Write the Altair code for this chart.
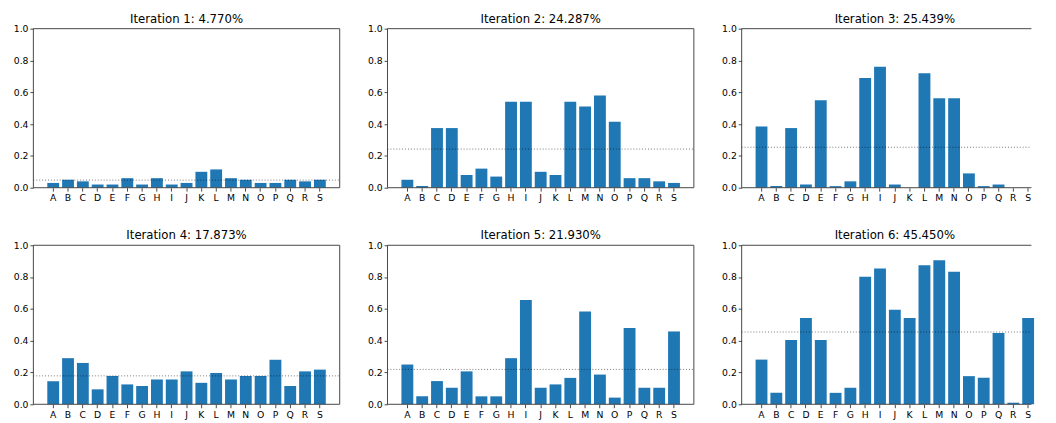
import altair as alt
import pandas as pd

categories = list("ABCDEFGHIJKLMNOPQRS")

iter1 = [0.03, 0.05, 0.04, 0.02, 0.02, 0.06, 0.02, 0.06, 0.02, 0.03,
         0.10, 0.115, 0.06, 0.05, 0.03, 0.03, 0.05, 0.04, 0.05]
iter2 = [0.05, 0.01, 0.375, 0.375, 0.08, 0.12, 0.07, 0.54, 0.54, 0.10,
         0.08, 0.54, 0.51, 0.58, 0.415, 0.06, 0.06, 0.04, 0.03]
iter3 = [0.385, 0.01, 0.375, 0.02, 0.55, 0.01, 0.04, 0.69, 0.76, 0.02,
         0.0, 0.72, 0.563, 0.563, 0.09, 0.01, 0.02, 0.0, 0.0]
iter4 = [0.145, 0.29, 0.26, 0.094, 0.178, 0.125, 0.115, 0.156, 0.156, 0.207,
         0.135, 0.197, 0.156, 0.178, 0.178, 0.28, 0.115, 0.207, 0.218]
iter5 = [0.25, 0.05, 0.146, 0.104, 0.207, 0.05, 0.05, 0.29, 0.656, 0.104,
         0.125, 0.166, 0.583, 0.187, 0.042, 0.479, 0.104, 0.104, 0.458]
iter6 = [0.281, 0.072, 0.405, 0.542, 0.405, 0.072, 0.104, 0.802, 0.854, 0.594,
         0.542, 0.875, 0.906, 0.833, 0.177, 0.167, 0.448, 0.01, 0.542]

means = [0.04770, 0.24287, 0.25439, 0.17873, 0.21930, 0.45450]
y_ticks = [0.0, 0.2, 0.4, 0.6, 0.8, 1.0]

W = 314
W_LAST = 297
H = 163
SPINE = "#444444"
BAR = "#1f77b4"


def panel(vals, mean, idx, last):
    w = W_LAST if last else W
    df = pd.DataFrame({"cat": categories, "val": vals})
    if last:
        xscale = alt.Scale(paddingInner=0.2, paddingOuter=0.94, range=[0, W])
    else:
        xscale = alt.Scale(paddingInner=0.2, paddingOuter=0.94)
    yenc = alt.Y("val:Q",
                 scale=alt.Scale(domain=[0, 1], nice=False, zero=True),
                 axis=alt.Axis(title=None, values=y_ticks, format=".1f",
                               grid=False, domain=False))
    bars = alt.Chart(df).mark_bar(color=BAR).encode(
        x=alt.X("cat:N", sort=categories, scale=xscale,
                axis=alt.Axis(title=None, labelAngle=0, domain=False)),
        y=yenc,
    )
    rule = alt.Chart(pd.DataFrame({"val": [mean]})).mark_rule(
        color="black", opacity=0.55, strokeDash=[1, 2], strokeWidth=1
    ).encode(y=yenc, x=alt.value(0), x2=alt.value(w))
    fdf = pd.DataFrame({"k": [0]})
    top = alt.Chart(fdf).mark_rule(color=SPINE, strokeWidth=1).encode(
        x=alt.value(0), x2=alt.value(w), y=alt.value(0))
    bottom = alt.Chart(fdf).mark_rule(color=SPINE, strokeWidth=1).encode(
        x=alt.value(0), x2=alt.value(w), y=alt.value(H))
    left = alt.Chart(fdf).mark_rule(color=SPINE, strokeWidth=1).encode(
        x=alt.value(0), y=alt.value(0), y2=alt.value(H))
    layers = [bars, rule, top, bottom, left]
    if not last:
        right = alt.Chart(fdf).mark_rule(color=SPINE, strokeWidth=1).encode(
            x=alt.value(w), y=alt.value(0), y2=alt.value(H))
        layers.append(right)
    title_text = f"Iteration {idx}: {mean * 100:.3f}%"
    if last:
        title = alt.TitleParams(text=title_text, dx=(W - W_LAST) / 2)
    else:
        title = alt.TitleParams(text=title_text)
    return alt.layer(*layers).properties(width=w, height=H, title=title)


series = [iter1, iter2, iter3, iter4, iter5, iter6]
panels = [panel(series[i], means[i], i + 1, i % 3 == 2) for i in range(6)]

row1 = alt.hconcat(panels[0], panels[1], panels[2], spacing=27)
row2 = alt.hconcat(panels[3], panels[4], panels[5], spacing=27)

chart = alt.vconcat(row1, row2, spacing=28).properties(
    padding={"left": 5, "top": 0, "right": 0, "bottom": 0}
).configure_view(
    strokeOpacity=0
).configure_axis(
    labelFont="DejaVu Sans",
    labelFontSize=9.5,
    labelColor="#000000",
    tickColor=SPINE,
    tickSize=3.5,
    labelPadding=2,
    grid=False,
    domain=False,
).configure_title(
    font="DejaVu Sans",
    fontSize=12,
    fontWeight="normal",
    color="#000000",
    offset=-2,
    anchor="middle",
    frame="group",
)

chart.save("out.html", embed_options={"renderer": "svg", "actions": False})
